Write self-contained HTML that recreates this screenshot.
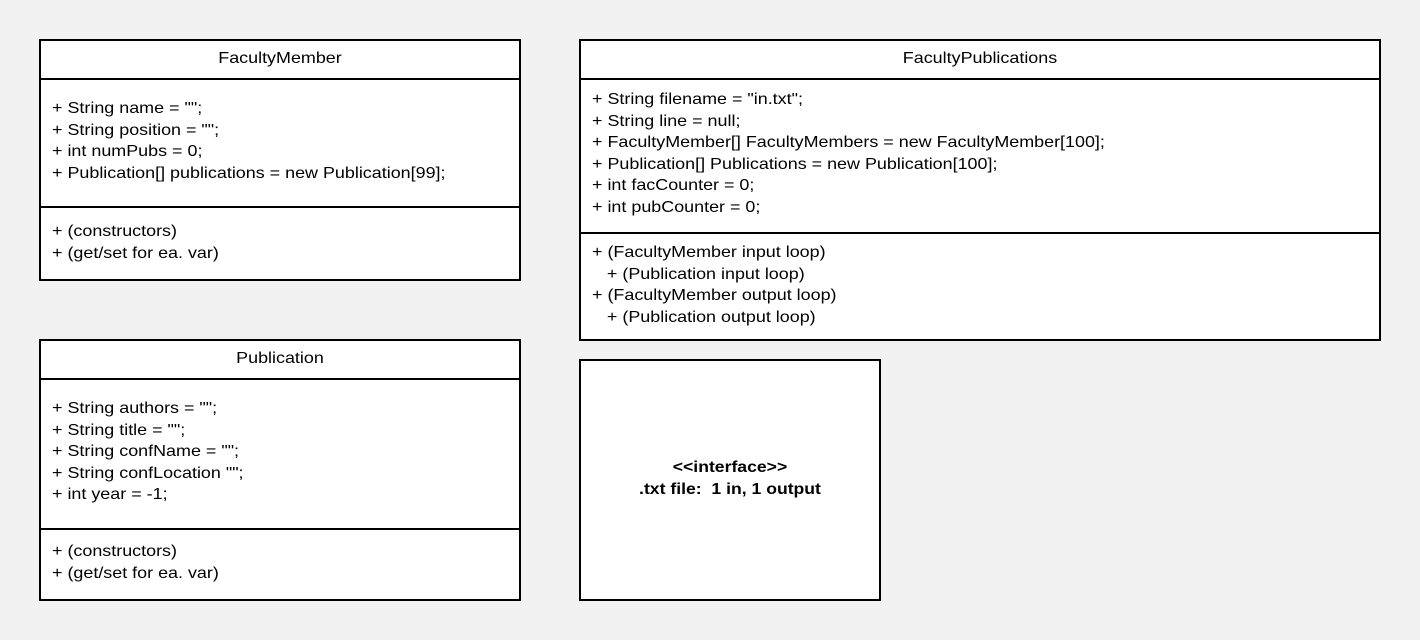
<!DOCTYPE html>
<html><head><meta charset="utf-8"><style>
body{margin:0;width:1420px;height:640px;background:#f1f1f1;position:relative;overflow:hidden;font-family:"Liberation Sans",Arial,sans-serif;font-size:16px;color:#000}
.box{position:absolute;background:#fff;border:2px solid #000;box-sizing:border-box}
.hl{position:absolute;left:0;right:0;height:0;border-top:2px solid #000}
.t{position:absolute;white-space:pre;line-height:21.5px;transform:scaleX(1.12);transform-origin:0 0}
.c{text-align:center;left:0;right:0;transform-origin:50% 0}
</style></head><body>

<div class="box" style="left:39px;top:39px;width:482px;height:242px">
  <div class="t c" style="top:7px">FacultyMember</div>
  <div class="hl" style="top:37px"></div>
  <div class="t" style="left:11px;top:57px">+ String name = "";
+ String position = "";
+ int numPubs = 0;
+ Publication[] publications = new Publication[99];</div>
  <div class="hl" style="top:165px"></div>
  <div class="t" style="left:11px;top:180px">+ (constructors)
+ (get/set for ea. var)</div>
</div>

<div class="box" style="left:39px;top:339px;width:482px;height:262px">
  <div class="t c" style="top:7px">Publication</div>
  <div class="hl" style="top:37px"></div>
  <div class="t" style="left:11px;top:57px">+ String authors = "";
+ String title = "";
+ String confName = "";
+ String confLocation "";
+ int year = -1;</div>
  <div class="hl" style="top:187px"></div>
  <div class="t" style="left:11px;top:200px">+ (constructors)
+ (get/set for ea. var)</div>
</div>

<div class="box" style="left:579px;top:39px;width:802px;height:302px">
  <div class="t c" style="top:7px">FacultyPublications</div>
  <div class="hl" style="top:37px"></div>
  <div class="t" style="left:11px;top:48px">+ String filename = "in.txt";
+ String line = null;
+ FacultyMember[] FacultyMembers = new FacultyMember[100];
+ Publication[] Publications = new Publication[100];
+ int facCounter = 0;
+ int pubCounter = 0;</div>
  <div class="hl" style="top:191px"></div>
  <div class="t" style="left:11px;top:201px">+ (FacultyMember input loop)
   + (Publication input loop)
+ (FacultyMember output loop)
   + (Publication output loop)</div>
</div>

<div class="box" style="left:579px;top:359px;width:302px;height:242px">
  <div class="t c" style="top:96px;font-weight:bold;transform:scaleX(1.1)">&lt;&lt;interface&gt;&gt;
.txt file:  1 in, 1 output</div>
</div>

</body></html>
